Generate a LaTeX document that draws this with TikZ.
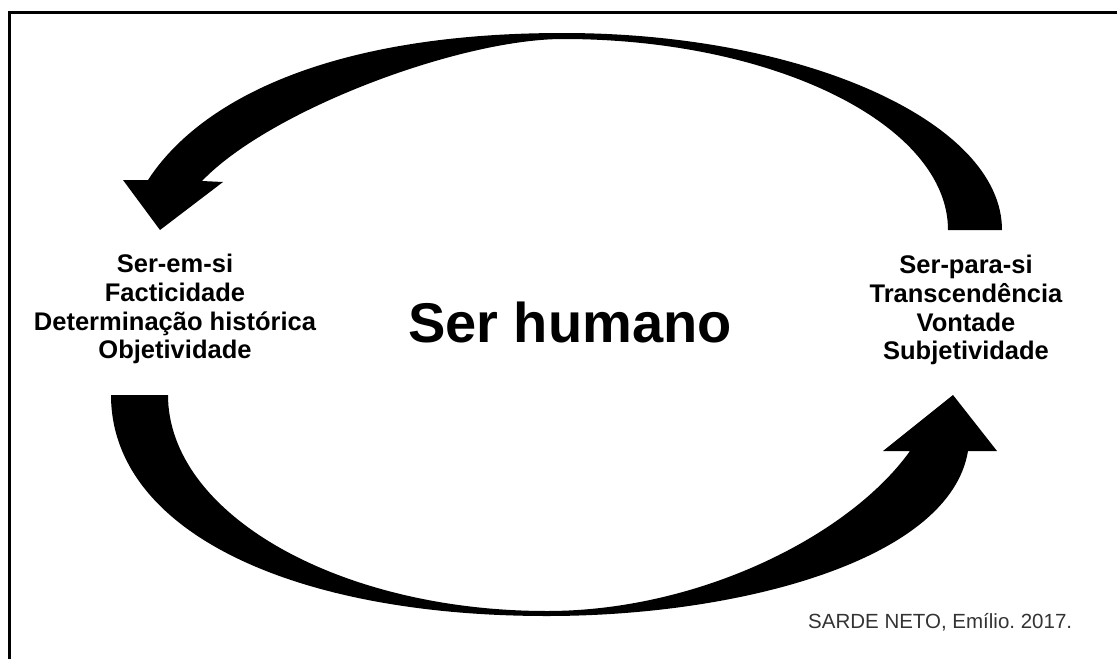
\documentclass[tikz,border=0pt]{standalone}
\usepackage{fontspec}
\setmainfont{Liberation Sans}
\frenchspacing
\begin{document}
\begin{tikzpicture}[x=1pt,y=-1pt,
	seta/.style={fill=black},
	lado/.style={font=\bfseries\fontsize{25.5}{28.7}\selectfont,align=center,inner sep=0pt,anchor=north}]

%Fix the page to the size of the figure
	\useasboundingbox (0,0) rectangle (1117,659);

%Frame, only its top and left sides show
	\draw[line width=2.4pt] (9.5,659) -- (9.5,12.5) -- (1117,12.5);

%Upper arrow: from the right label over the top down to the left label
	\fill[seta] (1002,230) .. controls (1002,122) and (804,33) .. (563,33)
		.. controls (330,33) and (200,100) .. (148,180)
		-- (123,180) -- (160,230) -- (223,182) -- (202,181)
		.. controls (270,110) and (460,39) .. (563,39)
		.. controls (775,39) and (948,125) .. (948,230) -- cycle;

%Lower arrow: from the left label under the bottom up to the right label
	\fill[seta] (168,395) .. controls (168,514) and (339,611) .. (547,611)
		.. controls (700,611) and (850,535) .. (910,451)
		-- (883,451) -- (953,395) -- (997,451) -- (968,451)
		.. controls (950,560) and (740,616) .. (547,616)
		.. controls (290,616) and (111,530) .. (111,395) -- cycle;

%The texts
	\node[font=\bfseries\fontsize{56}{60}\selectfont,anchor=base] (humano) at (570,342) {Ser humano};
	\node[lado] (emsi) at (175,254) {Ser-em-si\\Facticidade\\Determinação histórica\\Objetividade};
	\node[lado] (parasi) at (966,255) {Ser-para-si\\Transcendência\\Vontade\\Subjetividade};
	\node[font=\fontsize{20.5}{24}\selectfont,text=black!80,anchor=base west,inner sep=0pt] (autor) at (808,628) {SARDE NETO, Emílio. 2017.};

\end{tikzpicture}
\end{document}
